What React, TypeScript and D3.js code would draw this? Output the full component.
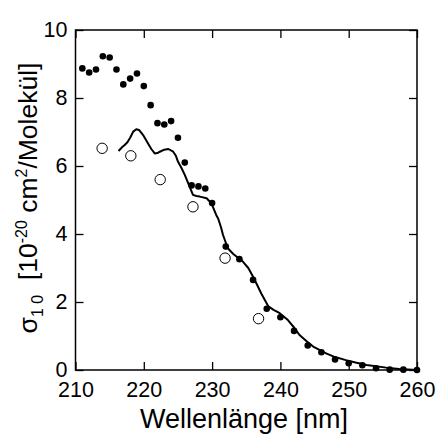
import React, { useEffect, useRef } from "react";
import * as d3 from "d3";

const filledX = [211,212,213,214,215,216,217,218,219,220,221,222,223,224,225,226,227,228,229,230,232,234,236,238,240,242,244,246,248,250,252,254,256,258,260];
const filledY = [8.87,8.75,8.84,9.23,9.19,8.84,8.40,8.57,8.72,8.35,7.79,7.26,7.22,7.32,6.83,6.10,5.43,5.40,5.34,4.91,3.63,3.26,2.65,1.80,1.55,1.15,0.72,0.52,0.31,0.20,0.14,0.05,0.01,0.01,0.0];

const openX = [213.9,218.1,222.4,227.2,231.9,236.8];
const openY = [6.52,6.30,5.60,4.80,3.29,1.51];

const lineX = [216.3,216.8,217.2,217.6,218.0,218.45,218.9,219.3,219.9,220.6,221.1,221.6,222.0,222.35,223.0,223.6,224.3,224.7,225.0,225.5,226.0,226.7,227.2,227.7,228.2,229.2,229.9,230.6,230.9,231.3,231.6,232.3,233.1,234.5,235.3,236.0,236.6,237.2,238.2,239.0,239.9,241.1,242.0,242.8,243.8,244.8,246.7,248.0,249.6,251.0,252.6,255.5,257.4,260];
const lineY = [6.44,6.55,6.62,6.70,6.83,7.01,7.08,7.06,6.91,6.67,6.50,6.37,6.38,6.42,6.48,6.50,6.42,6.30,6.13,5.95,5.74,5.39,5.15,5.12,5.10,5.05,4.90,4.56,4.45,4.20,3.97,3.58,3.41,3.19,3.00,2.74,2.50,2.25,1.88,1.77,1.67,1.47,1.25,1.03,0.85,0.69,0.49,0.38,0.29,0.22,0.15,0.07,0.03,0.0];

const xTicks = [210,220,230,240,250,260];
const yTicks = [0,2,4,6,8,10];

const W = 438, H = 438;
const left = 75.5, right = 417, top = 30, bottom = 370;

export default function App() {
  const ref = useRef<SVGSVGElement>(null);
  useEffect(() => {
    const svg = d3.select(ref.current);
    svg.selectAll("*").remove();
    const x = d3.scaleLinear().domain([210, 260]).range([left, right]);
    const y = d3.scaleLinear().domain([0, 10]).range([bottom, top]);
    const font = "'Liberation Sans', Arial, Helvetica, sans-serif";

    const styleAxis = (g: any, labels: boolean) => {
      g.select(".domain").remove();
      g.selectAll("line").attr("stroke", "#000").attr("stroke-width", 1.3);
      g.selectAll("text").attr("font-family", font).attr("font-size", 21.5).attr("fill", "#000");
      if (!labels) g.selectAll("text").remove();
    };

    svg.append("g").attr("transform", `translate(0,${bottom})`)
      .call(d3.axisBottom(x).tickValues(xTicks).tickSize(-8).tickPadding(12).tickFormat(d3.format("d")))
      .call((g: any) => styleAxis(g, true));
    svg.append("g").attr("transform", `translate(0,${top})`)
      .call(d3.axisTop(x).tickValues(xTicks).tickSize(-8))
      .call((g: any) => styleAxis(g, false));
    svg.append("g").attr("transform", `translate(${left},0)`)
      .call(d3.axisLeft(y).tickValues(yTicks).tickSize(-8).tickPadding(8).tickFormat(d3.format("d")))
      .call((g: any) => styleAxis(g, true));
    svg.append("g").attr("transform", `translate(${right},0)`)
      .call(d3.axisRight(y).tickValues(yTicks).tickSize(-8))
      .call((g: any) => styleAxis(g, false));

    svg.append("rect").attr("x", left).attr("y", top).attr("width", right - left).attr("height", bottom - top)
      .attr("fill", "none").attr("stroke", "#000").attr("stroke-width", 1.5);

    const pts = lineX.map((v, i) => [v, lineY[i]] as [number, number]);
    const line = d3.line<[number, number]>().x(d => x(d[0])).y(d => y(d[1])).curve(d3.curveLinear);
    svg.append("path").attr("d", line(pts)).attr("fill", "none").attr("stroke", "#000").attr("stroke-width", 2).attr("stroke-linejoin", "round");

    svg.append("g").selectAll("circle").data(filledX.map((v, i) => [v, filledY[i]]))
      .join("circle").attr("cx", d => x(d[0])).attr("cy", d => y(d[1])).attr("r", 3.3).attr("fill", "#000");

    svg.append("g").selectAll("circle").data(openX.map((v, i) => [v, openY[i]]))
      .join("circle").attr("cx", d => x(d[0])).attr("cy", d => y(d[1])).attr("r", 5.2)
      .attr("fill", "#fff").attr("stroke", "#000").attr("stroke-width", 1);

    svg.append("text").attr("x", 244).attr("y", 428).attr("text-anchor", "middle")
      .attr("font-family", font).attr("font-size", 27).attr("fill", "#000").text("Wellenlänge [nm]");

    const yl = svg.append("text").attr("transform", `translate(37,198) rotate(-90)`)
      .attr("text-anchor", "middle").attr("font-family", font).attr("font-size", 26.5).attr("fill", "#000");
    yl.append("tspan").text("σ");
    yl.append("tspan").attr("font-size", 16).attr("dy", 6).text("1 0");
    yl.append("tspan").attr("dy", -6).text("\u00a0 [10");
    yl.append("tspan").attr("font-size", 16).attr("dy", -10).text("-20");
    yl.append("tspan").attr("dy", 10).text(" cm");
    yl.append("tspan").attr("font-size", 16).attr("dy", -10).text("2");
    yl.append("tspan").attr("dy", 10).text("/Molekül]");
  }, []);
  return (
    <svg ref={ref} width={W} height={H} style={{ position: "absolute", left: 0, top: 0, background: "#fff" }} />
  );
}
